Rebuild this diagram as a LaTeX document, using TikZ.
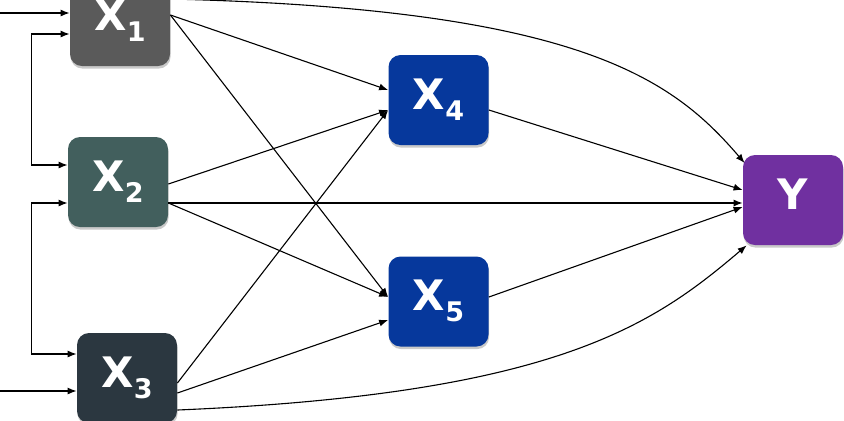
\documentclass[tikz,border=0pt]{standalone}
\usepackage{fontspec}
\setsansfont{DejaVu Sans}
\usetikzlibrary{arrows.meta, shadows}
\definecolor{InGrey}{HTML}{5A5A5A}
\definecolor{InTeal}{HTML}{425F5D}
\definecolor{InSlate}{HTML}{2B3740}
\definecolor{MidBlue}{HTML}{06389C}
\definecolor{OutPurple}{HTML}{7030A0}
\newcommand{\xsub}[1]{X\raisebox{-5.5pt}{\fontsize{13.5}{13.5}\selectfont #1}}

\begin{document}
\begin{tikzpicture}[
  x=0.5pt, y=-0.5pt,
  box/.style={rounded corners=6pt, minimum width=50pt, minimum height=45pt, inner sep=0pt,
    text=white, font=\fontsize{21}{22}\sffamily\bfseries, text height=15pt, text depth=6pt,
    drop shadow={shadow xshift=0.3pt, shadow yshift=-1.3pt, fill=black!30, opacity=0.7}},
  arr/.style={-{Latex[length=4.5pt, width=3.5pt]}, line width=0.55pt},
  biarr/.style={{Latex[length=4.5pt, width=3.5pt]}-{Latex[length=4.5pt, width=3.5pt]}, line width=0.55pt},
]
  \useasboundingbox (0,0) rectangle (844,420);
  \clip (0,0) rectangle (844,420);

  % Inputs
  \node[box, fill=InGrey] (X1) at (120,21) {\xsub{1}};
  \node[box, fill=InTeal] (X2) at (118,182) {\xsub{2}};
  \node[box, fill=InSlate] (X3) at (127,378) {\xsub{3}};
  \coordinate (in1) at (0,13);
  \coordinate (in3) at (0,391);
  \draw[arr] (in1) -- (X1.west |- in1);
  \draw[arr] (in3) -- (X3.west |- in3);
  \draw[biarr] ([yshift=-6.5pt]X1.west) -- ++(-38,0) |- ([yshift=8.5pt]X2.west);
  \draw[biarr] ([yshift=-10.5pt]X2.west) -- ++(-36,0) |- ([yshift=12pt]X3.west);

  % Hidden layer
  \node[box, fill=MidBlue] (X4) at (438.5,100) {\xsub{4}};
  \node[box, fill=MidBlue] (X5) at (438.5,301.5) {\xsub{5}};

  % Output
  \node[box, fill=OutPurple] (Y) at (793,200) {Y};

  % X1 edges
  \draw[arr] ([yshift=3pt]X1.east) -- ([yshift=5pt]X4.west);
  \draw[arr] ([yshift=3pt]X1.east) -- ([yshift=2.25pt]X5.west);
  \draw[arr] ([yshift=11pt]X1.east) .. controls +(410,10) and +(-72,-84) .. ([xshift=1pt, yshift=18.5pt]Y.west);

  % X2 edges
  \draw[arr] ([yshift=-1pt]X2.east) -- ([yshift=-5pt]X4.west);
  \draw[arr] ([yshift=-10.5pt]X2.east) -- ([yshift=2.25pt]X5.west);
  \draw[arr] ([yshift=-10.5pt]X2.east) -- ([yshift=-1.5pt]Y.west);

  % X3 edges
  \draw[arr] ([yshift=-2.5pt]X3.east) -- ([yshift=-5pt]X4.west);
  \draw[arr] ([yshift=-7.5pt]X3.east) -- ([yshift=-9.25pt]X5.west);
  \draw[arr] ([yshift=-16pt]X3.east) .. controls +(380,-16) and +(-93,79) .. ([xshift=2pt]Y.south west);

  % Hidden to output
  \draw[arr] ([yshift=-5pt]X4.east) -- ([yshift=5pt]Y.west);
  \draw[arr] ([yshift=2.25pt]X5.east) -- ([yshift=-3.5pt]Y.west);
\end{tikzpicture}
\end{document}
